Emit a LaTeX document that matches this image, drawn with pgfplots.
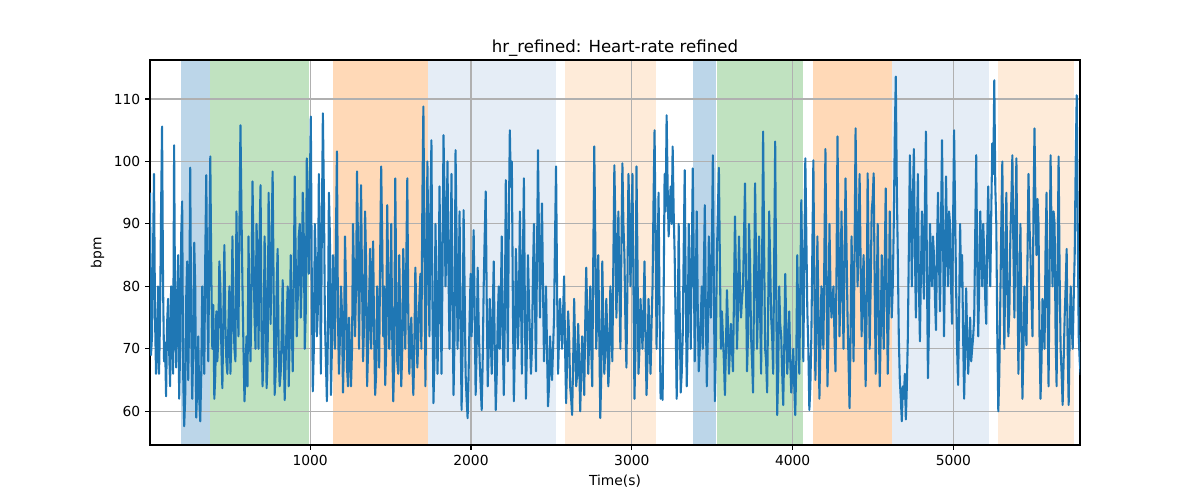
\documentclass[border=0pt]{standalone}
\usepackage{pgfplots}
\pgfplotsset{compat=1.18}
\usepackage{fontspec}
\setmainfont{DejaVu Sans}
\definecolor{tabblue}{HTML}{1F77B4}
\definecolor{bandblue}{RGB}{188,214,233}
\definecolor{bandgreen}{RGB}{192,226,192}
\definecolor{bandorange}{RGB}{255,217,183}
\definecolor{lightblue}{RGB}{229,237,246}
\definecolor{lightorange}{RGB}{254,235,217}
\definecolor{gridgray}{HTML}{B0B0B0}
\begin{document}
\begin{tikzpicture}
\begin{axis}[
  name=ax,
  set layers,
  scale only axis,
  width=9.3in, height=3.85in,
  xmin=4, xmax=5787, ymin=54.6, ymax=116.25,
  xtick={1000,2000,3000,4000,5000},
  ytick={60,70,80,90,100,110},
  /pgf/number format/1000 sep={},
  /pgf/number format/assume math mode=true,
  tick label style={font=\fontsize{10}{12}\selectfont},
  grid=major,
  grid style={color=gridgray, line width=0.8pt},
  axis line style={line width=0.8pt},
  tick style={line width=0.8pt, black},
  major tick length=3.5pt,
  tick align=outside,
  tick pos=left,
  title={hr\_refined: Heart-rate refined},
  title style={font=\fontsize{12}{14}\selectfont, yshift=-6.8pt},
  xlabel={Time(s)},
  ylabel={bpm},
  label style={font=\fontsize{10}{12}\selectfont},
  clip=true,
]
\addplot[draw=none, fill=bandblue, on layer=axis background, forget plot] coordinates {(195,54.6)(195,116.25)(374,116.25)(374,54.6)} -- cycle;
\addplot[draw=none, fill=bandgreen, on layer=axis background, forget plot] coordinates {(380,54.6)(380,116.25)(994,116.25)(994,54.6)} -- cycle;
\addplot[draw=none, fill=bandorange, on layer=axis background, forget plot] coordinates {(1141,54.6)(1141,116.25)(1735,116.25)(1735,54.6)} -- cycle;
\addplot[draw=none, fill=lightblue, on layer=axis background, forget plot] coordinates {(1735,54.6)(1735,116.25)(2526,116.25)(2526,54.6)} -- cycle;
\addplot[draw=none, fill=lightorange, on layer=axis background, forget plot] coordinates {(2582,54.6)(2582,116.25)(3151,116.25)(3151,54.6)} -- cycle;
\addplot[draw=none, fill=bandblue, on layer=axis background, forget plot] coordinates {(3383,54.6)(3383,116.25)(3522,116.25)(3522,54.6)} -- cycle;
\addplot[draw=none, fill=bandgreen, on layer=axis background, forget plot] coordinates {(3528,54.6)(3528,116.25)(4066,116.25)(4066,54.6)} -- cycle;
\addplot[draw=none, fill=bandorange, on layer=axis background, forget plot] coordinates {(4124,54.6)(4124,116.25)(4618,116.25)(4618,54.6)} -- cycle;
\addplot[draw=none, fill=lightblue, on layer=axis background, forget plot] coordinates {(4618,54.6)(4618,116.25)(5224,116.25)(5224,54.6)} -- cycle;
\addplot[draw=none, fill=lightorange, on layer=axis background, forget plot] coordinates {(5274,54.6)(5274,116.25)(5747,116.25)(5747,54.6)} -- cycle;
\addplot[color=tabblue, line width=1.5pt, line join=round, mark=none] coordinates {
(4,95)(10.25,69)(16.5,72)(22.75,85)(29,98)(35.25,75)(41.5,66)(47.75,70)(54,80)(60.25,66)
(66.5,75)(72.75,92)(79,105.6)(85.25,80)(91.5,68)(97.75,71)(104,62.4)(110.25,74)(116.5,78)(122.75,70)
(129,64)(135.25,80)(141.5,73)(147.75,66)(154,102.6)(160.25,75)(166.5,67)(172.75,78)(179,85)(185.25,62)
(191.5,70)(197.75,88)(204,93.6)(210.25,66)(216.5,57.6)(222.75,62)(229,78)(235.25,84)(241.5,65)(247.75,75)
(254,99)(260.25,74)(266.5,62)(272.75,70)(279,87)(285.25,80)(291.5,59)(297.75,64)(304,72)(310.25,62)
(316.5,58.4)(322.75,66)(329,80)(335.25,72)(341.5,66)(347.75,85)(354,97.8)(360.25,78)(366.5,68)(372.75,86)
(379,100.8)(385.25,82)(391.5,70)(397.75,77)(404,62)(410.25,66)(416.5,76)(422.75,68)(429,72)(435.25,84)
(441.5,80)(447.75,70)(454,63.7)(460.25,75)(466.5,86.6)(472.75,74)(479,68)(485.25,66)(491.5,74)(497.75,80)
(504,66)(510.25,72)(516.5,88)(522.75,76)(529,70)(535.25,68)(541.5,92)(547.75,80)(554,72)(560.25,90)
(566.5,105.8)(572.75,92)(579,80)(585.25,70)(591.5,61.6)(597.75,66)(604,72)(610.25,64)(616.5,88)(622.75,75)
(629,68)(635.25,80)(641.5,96.8)(647.75,85)(654,75)(660.25,70)(666.5,90)(672.75,84)(679,70)(685.25,88)
(691.5,96.2)(697.75,72)(704,64)(710.25,70)(716.5,88)(722.75,80)(729,63.7)(735.25,68)(741.5,95)(747.75,82)
(754,74)(760.25,88)(766.5,98.4)(772.75,80)(779,62.6)(785.25,66)(791.5,80)(797.75,86)(804,70)(810.25,64)
(816.5,66)(822.75,72)(829,81)(835.25,70)(841.5,61.8)(847.75,68)(854,75)(860.25,80)(866.5,64)(872.75,72)
(879,85)(885.25,74)(891.5,66.4)(897.75,80)(904,97.6)(910.25,84)(916.5,72)(922.75,78)(929,88)(935.25,90)
(941.5,75)(947.75,82)(954,95)(960.25,88)(966.5,70)(972.75,76)(979,100.5)(985.25,92)(991.5,82)(997.75,96)
(1004,107.2)(1010.25,80)(1016.5,63.2)(1022.75,70)(1029,90)(1035.25,84)(1041.5,72)(1047.75,76)(1054,98)(1060.25,85)
(1066.5,66)(1072.75,90)(1079,107.7)(1085.25,95)(1091.5,75)(1097.75,68)(1104,61.6)(1110.25,72)(1116.5,95)(1122.75,88)
(1129,62.6)(1135.25,70)(1141.5,85)(1147.75,78)(1154,70)(1160.25,88)(1166.5,101.6)(1172.75,75)(1179,66)(1185.25,72)
(1191.5,80)(1197.75,76)(1204,63)(1210.25,70)(1216.5,88)(1222.75,80)(1229,67)(1235.25,64)(1241.5,75)(1247.75,70)
(1254,64)(1260.25,70)(1266.5,90)(1272.75,82)(1279,72)(1285.25,80)(1291.5,98.4)(1297.75,86)(1304,70)(1310.25,84)
(1316.5,96.2)(1322.75,80)(1329,68)(1335.25,74)(1341.5,92)(1347.75,84)(1354,64)(1360.25,70)(1366.5,78)(1372.75,86)
(1379,70)(1385.25,78)(1391.5,87.2)(1397.75,72)(1404,62.6)(1410.25,66)(1416.5,80)(1422.75,75)(1429,67)(1435.25,85)
(1441.5,99.2)(1447.75,88)(1454,72)(1460.25,80)(1466.5,64.2)(1472.75,70)(1479,93)(1485.25,82)(1491.5,70)(1497.75,76)
(1504,90)(1510.25,72)(1516.5,61.6)(1522.75,68)(1529,97.3)(1535.25,80)(1541.5,68)(1547.75,66)(1554,85)(1560.25,74)
(1566.5,64)(1572.75,70)(1579,86)(1585.25,78)(1591.5,70)(1597.75,84)(1604,97.3)(1610.25,75)(1616.5,66)(1622.75,72)
(1629,75)(1635.25,68)(1641.5,62.6)(1647.75,70)(1654,83)(1660.25,76)(1666.5,67)(1672.75,72)(1679,78)(1685.25,82)
(1691.5,70)(1697.75,94)(1704,108.8)(1710.25,88)(1716.5,64)(1722.75,80)(1729,100)(1735.25,85)(1741.5,72)(1747.75,92)
(1754,103.4)(1760.25,78)(1766.5,61.3)(1772.75,68)(1779,90)(1785.25,80)(1791.5,66)(1797.75,74)(1804,96)(1810.25,84)
(1816.5,66)(1822.75,82)(1829,104.2)(1835.25,95)(1841.5,80)(1847.75,88)(1854,100)(1860.25,82)(1866.5,70)(1872.75,86)
(1879,98)(1885.25,76)(1891.5,62.6)(1897.75,72)(1904,101.8)(1910.25,88)(1916.5,70)(1922.75,78)(1929,92)(1935.25,74)
(1941.5,60.2)(1947.75,70)(1954,92.2)(1960.25,80)(1966.5,66)(1972.75,62)(1979,58.9)(1985.25,66)(1991.5,75)(1997.75,82)
(2004,72)(2010.25,80)(2016.5,89)(2022.75,76)(2029,62.6)(2035.25,70)(2041.5,83)(2047.75,74)(2054,68)(2060.25,64)
(2066.5,60.2)(2072.75,68)(2079,80)(2085.25,88)(2091.5,95.2)(2097.75,78)(2104,64)(2110.25,70)(2116.5,78)(2122.75,72)
(2129,66)(2135.25,76)(2141.5,84)(2147.75,70)(2154,60.2)(2160.25,66)(2166.5,75)(2172.75,80)(2179,70)(2185.25,78)
(2191.5,88)(2197.75,72)(2204,62.6)(2210.25,74)(2216.5,97)(2222.75,84)(2229,68)(2235.25,90)(2241.5,105)(2247.75,96)
(2254,100)(2260.25,78)(2266.5,61.6)(2272.75,70)(2279,86)(2285.25,80)(2291.5,70)(2297.75,76)(2304,92)(2310.25,80)
(2316.5,66)(2322.75,84)(2329,97.3)(2335.25,76)(2341.5,62)(2347.75,70)(2354,85)(2360.25,78)(2366.5,72)(2372.75,66)
(2379,70)(2385.25,82)(2391.5,90)(2397.75,78)(2404,66.4)(2410.25,84)(2416.5,101.8)(2422.75,88)(2429,75)(2435.25,86)
(2441.5,93.3)(2447.75,80)(2454,68)(2460.25,74)(2466.5,80)(2472.75,70)(2479,60.8)(2485.25,64)(2491.5,72)(2497.75,68)
(2504,65)(2510.25,70)(2516.5,75)(2522.75,88)(2529,99.2)(2535.25,80)(2541.5,66)(2547.75,72)(2554,78)(2560.25,74)
(2566.5,70)(2572.75,76)(2579,81.6)(2585.25,70)(2591.5,61.3)(2597.75,68)(2604,76)(2610.25,72)(2616.5,64)(2622.75,62)
(2629,59.4)(2635.25,68)(2641.5,78)(2647.75,70)(2654,64)(2660.25,66)(2666.5,74)(2672.75,68)(2679,60)(2685.25,66)
(2691.5,72)(2697.75,68)(2704,62.6)(2710.25,74)(2716.5,83)(2722.75,76)(2729,66)(2735.25,72)(2741.5,80)(2747.75,70)
(2754,64)(2760.25,84)(2766.5,102.4)(2772.75,88)(2779,70)(2785.25,76)(2791.5,85)(2797.75,72)(2804,58.9)(2810.25,66)
(2816.5,84)(2822.75,74)(2829,66)(2835.25,70)(2841.5,78)(2847.75,72)(2854,64)(2860.25,68)(2866.5,80)(2872.75,76)
(2879,68)(2885.25,84)(2891.5,99.4)(2897.75,90)(2904,75)(2910.25,82)(2916.5,92)(2922.75,80)(2929,70)(2935.25,86)
(2941.5,99.7)(2947.75,90)(2954,85)(2960.25,74)(2966.5,67)(2972.75,80)(2979,98)(2985.25,92)(2991.5,80)(2997.75,88)
(3004,98)(3010.25,80)(3016.5,62)(3022.75,70)(3029,99.2)(3035.25,84)(3041.5,66)(3047.75,70)(3054,78)(3060.25,74)
(3066.5,70)(3072.75,76)(3079,84)(3085.25,72)(3091.5,62.6)(3097.75,68)(3104,78)(3110.25,72)(3116.5,66)(3122.75,74)
(3129,80)(3135.25,94)(3141.5,105)(3147.75,88)(3154,70)(3160.25,84)(3166.5,95)(3172.75,76)(3179,62)(3185.25,66)
(3191.5,61.8)(3197.75,78)(3204,98)(3210.25,92)(3216.5,107.4)(3222.75,96)(3229,88)(3235.25,92)(3241.5,96)(3247.75,90)
(3254,102.4)(3260.25,92)(3266.5,85)(3272.75,74)(3279,62)(3285.25,72)(3291.5,90)(3297.75,76)(3304,63)(3310.25,66)
(3316.5,72)(3322.75,86)(3329,98.6)(3335.25,80)(3341.5,64)(3347.75,72)(3354,90)(3360.25,82)(3366.5,70)(3372.75,84)
(3379,98.9)(3385.25,84)(3391.5,68)(3397.75,80)(3404,92)(3410.25,76)(3416.5,66.4)(3422.75,70)(3429,75)(3435.25,80)
(3441.5,70)(3447.75,82)(3454,93)(3460.25,76)(3466.5,64)(3472.75,72)(3479,88)(3485.25,80)(3491.5,75)(3497.75,86)
(3504,101)(3510.25,80)(3516.5,61.6)(3522.75,70)(3529,85)(3535.25,92)(3541.5,99)(3547.75,84)(3554,70)(3560.25,76)
(3566.5,72)(3572.75,68)(3579,62.6)(3585.25,70)(3591.5,79.4)(3597.75,74)(3604,66)(3610.25,70)(3616.5,74)(3622.75,70)
(3629,66.4)(3635.25,78)(3641.5,91.2)(3647.75,82)(3654,70)(3660.25,76)(3666.5,88)(3672.75,80)(3679,75)(3685.25,78)
(3691.5,80)(3697.75,88)(3704,96.5)(3710.25,80)(3716.5,66.4)(3722.75,72)(3729,90)(3735.25,84)(3741.5,72)(3747.75,68)
(3754,63)(3760.25,80)(3766.5,96.5)(3772.75,84)(3779,70)(3785.25,78)(3791.5,88)(3797.75,76)(3804,66)(3810.25,84)
(3816.5,104.8)(3822.75,86)(3829,70)(3835.25,68)(3841.5,63)(3847.75,76)(3854,92)(3860.25,84)(3866.5,75)(3872.75,72)
(3879,66)(3885.25,84)(3891.5,103.2)(3897.75,80)(3904,59.4)(3910.25,66)(3916.5,80)(3922.75,74)(3929,72)(3935.25,66)
(3941.5,61)(3947.75,70)(3954,82)(3960.25,74)(3966.5,66)(3972.75,70)(3979,76)(3985.25,68)(3991.5,63)(3997.75,66)
(4004,70)(4010.25,64)(4016.5,59.4)(4022.75,68)(4029,85)(4035.25,74)(4041.5,66)(4047.75,80)(4054,93.8)(4060.25,82)
(4066.5,68)(4072.75,84)(4079,100.5)(4085.25,88)(4091.5,76)(4097.75,70)(4104,60.2)(4110.25,64)(4116.5,72)(4122.75,86)
(4129,100.2)(4135.25,80)(4141.5,65)(4147.75,74)(4154,88)(4160.25,76)(4166.5,62)(4172.75,70)(4179,80)(4185.25,74)
(4191.5,70)(4197.75,86)(4204,102)(4210.25,82)(4216.5,64)(4222.75,72)(4229,90)(4235.25,80)(4241.5,75)(4247.75,78)
(4254,80)(4260.25,72)(4266.5,66.4)(4272.75,82)(4279,104)(4285.25,88)(4291.5,72)(4297.75,80)(4304,92)(4310.25,80)
(4316.5,70)(4322.75,84)(4329,97.3)(4335.25,86)(4341.5,75)(4347.75,68)(4354,60.5)(4360.25,72)(4366.5,88)(4372.75,78)
(4379,68)(4385.25,86)(4391.5,105.3)(4397.75,90)(4404,80)(4410.25,88)(4416.5,98)(4422.75,84)(4429,72)(4435.25,80)
(4441.5,85)(4447.75,74)(4454,64)(4460.25,76)(4466.5,98.1)(4472.75,84)(4479,70)(4485.25,80)(4491.5,92)(4497.75,94)
(4504,98.1)(4510.25,80)(4516.5,66)(4522.75,78)(4529,90)(4535.25,76)(4541.5,64)(4547.75,72)(4554,85)(4560.25,78)
(4566.5,70)(4572.75,84)(4579,95.7)(4585.25,80)(4591.5,66)(4597.75,76)(4604,92)(4610.25,82)(4616.5,75)(4622.75,80)
(4629,90)(4635.25,104)(4641.5,113.6)(4647.75,96)(4654,85)(4660.25,72)(4666.5,65)(4672.75,62)(4679,58.4)(4685.25,64)
(4691.5,62)(4697.75,66)(4704,58.7)(4710.25,64)(4716.5,72)(4722.75,86)(4729,101)(4735.25,92)(4741.5,80)(4747.75,94)
(4754,102)(4760.25,86)(4766.5,75)(4772.75,88)(4779,98)(4785.25,80)(4791.5,71.2)(4797.75,82)(4804,92)(4810.25,84)
(4816.5,78)(4822.75,94)(4829,104.8)(4835.25,82)(4841.5,65.3)(4847.75,74)(4854,90)(4860.25,84)(4866.5,80)(4872.75,88)
(4879,85)(4885.25,78)(4891.5,73)(4897.75,86)(4904,95)(4910.25,84)(4916.5,76)(4922.75,90)(4929,103.4)(4935.25,88)
(4941.5,72)(4947.75,84)(4954,97.6)(4960.25,86)(4966.5,80)(4972.75,92)(4979,90)(4985.25,80)(4991.5,74)(4997.75,90)
(5004,105)(5010.25,92)(5016.5,80)(5022.75,70)(5029,64.2)(5035.25,76)(5041.5,90)(5047.75,80)(5054,85)(5060.25,72)
(5066.5,62)(5072.75,70)(5079,79.7)(5085.25,72)(5091.5,66)(5097.75,70)(5104,75)(5110.25,68)(5116.5,70)(5122.75,72)
(5129,75)(5135.25,88)(5141.5,101)(5147.75,84)(5154,72)(5160.25,80)(5166.5,92)(5172.75,86)(5179,80)(5185.25,90)
(5191.5,85)(5197.75,78)(5204,74)(5210.25,88)(5216.5,96)(5222.75,86)(5229,80)(5235.25,92)(5241.5,102.9)(5247.75,98)
(5254,113)(5260.25,96)(5266.5,90)(5272.75,72)(5279,60)(5285.25,66)(5291.5,78)(5297.75,90)(5304,100)(5310.25,82)
(5316.5,70)(5322.75,84)(5329,95)(5335.25,80)(5341.5,72)(5347.75,76)(5354,88)(5360.25,94)(5366.5,101)(5372.75,86)
(5379,75)(5385.25,90)(5391.5,100.5)(5397.75,82)(5404,66)(5410.25,78)(5416.5,90)(5422.75,74)(5429,62)(5435.25,70)
(5441.5,80)(5447.75,74)(5454,70.6)(5460.25,84)(5466.5,98)(5472.75,90)(5479,85)(5485.25,78)(5491.5,72)(5497.75,92)
(5504,105.3)(5510.25,92)(5516.5,85)(5522.75,94)(5529,90)(5535.25,72)(5541.5,62)(5547.75,68)(5554,78)(5560.25,74)
(5566.5,70)(5572.75,86)(5579,95)(5585.25,76)(5591.5,64)(5597.75,82)(5604,101)(5610.25,88)(5616.5,80)(5622.75,92)
(5629,90)(5635.25,72)(5641.5,64)(5647.75,84)(5654,100.8)(5660.25,82)(5666.5,70)(5672.75,66)(5679,61)(5685.25,68)
(5691.5,75)(5697.75,80)(5704,86)(5710.25,70)(5716.5,61)(5722.75,72)(5729,80)(5735.25,74)(5741.5,70)(5747.75,78)
(5754,85)(5760.25,100)(5766.5,110.6)(5772.75,90)(5779,72)(5785.25,68)(5791.5,65.8)
};
\end{axis}
\path ([xshift=-1.5in,yshift=-0.55in]ax.south west) rectangle ([xshift=1.2in,yshift=0.6in]ax.north east);
\end{tikzpicture}
\end{document}
